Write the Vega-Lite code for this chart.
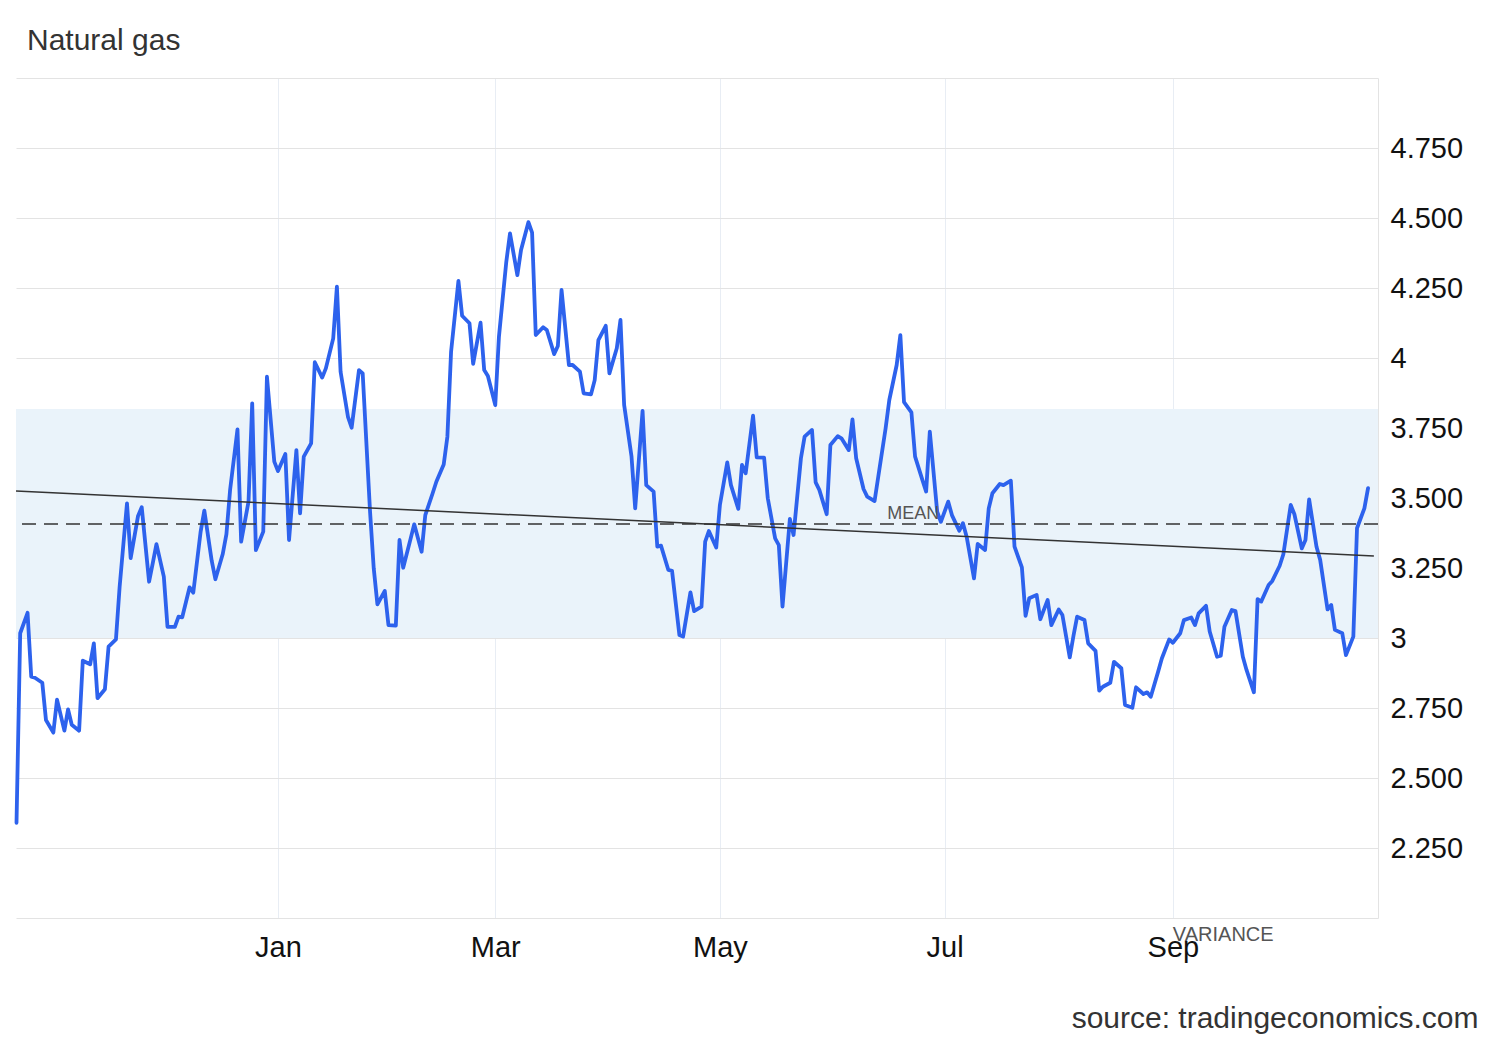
{
  "$schema": "https://vega.github.io/schema/vega-lite/v6.json",
  "width": 1362,
  "height": 840,
  "autosize": "none",
  "padding": {"left": 16, "top": 78, "right": 122, "bottom": 122},
  "background": "white",
  "config": {
    "font": "Liberation Sans",
    "view": {"stroke": null}
  },
  "title": {
    "text": "Natural gas",
    "anchor": "start",
    "dx": 14,
    "offset": 22,
    "fontSize": 30,
    "fontWeight": "normal",
    "color": "#333333",
    "font": "Liberation Sans"
  },
  "layer": [
    {
      "data": {"values": [{"lo": 3.0, "hi": 3.818}]},
      "mark": {"type": "rect", "color": "#eaf3fa"},
      "encoding": {
        "y": {"field": "lo", "type": "quantitative", "title": null, "scale": {"domain": [2, 5], "nice": false, "zero": false}},
        "y2": {"field": "hi"}
      }
    },
    {
      "data": {"values": [
        {"date": "2024-10-22", "v": 2.34},
        {"date": "2024-10-23", "v": 3.017},
        {"date": "2024-10-25", "v": 3.09},
        {"date": "2024-10-26", "v": 2.862},
        {"date": "2024-10-27", "v": 2.858},
        {"date": "2024-10-29", "v": 2.84},
        {"date": "2024-10-30", "v": 2.707},
        {"date": "2024-11-01", "v": 2.662},
        {"date": "2024-11-02", "v": 2.78},
        {"date": "2024-11-04", "v": 2.669},
        {"date": "2024-11-05", "v": 2.745},
        {"date": "2024-11-06", "v": 2.69},
        {"date": "2024-11-08", "v": 2.669},
        {"date": "2024-11-09", "v": 2.919},
        {"date": "2024-11-11", "v": 2.906},
        {"date": "2024-11-12", "v": 2.981},
        {"date": "2024-11-13", "v": 2.785},
        {"date": "2024-11-15", "v": 2.817},
        {"date": "2024-11-16", "v": 2.969},
        {"date": "2024-11-18", "v": 2.995},
        {"date": "2024-11-19", "v": 3.183},
        {"date": "2024-11-21", "v": 3.481},
        {"date": "2024-11-22", "v": 3.285},
        {"date": "2024-11-24", "v": 3.436},
        {"date": "2024-11-25", "v": 3.467},
        {"date": "2024-11-27", "v": 3.201},
        {"date": "2024-11-28", "v": 3.267},
        {"date": "2024-11-29", "v": 3.335},
        {"date": "2024-12-01", "v": 3.219},
        {"date": "2024-12-02", "v": 3.04},
        {"date": "2024-12-04", "v": 3.04},
        {"date": "2024-12-05", "v": 3.076},
        {"date": "2024-12-06", "v": 3.074},
        {"date": "2024-12-08", "v": 3.181},
        {"date": "2024-12-09", "v": 3.162},
        {"date": "2024-12-11", "v": 3.38},
        {"date": "2024-12-12", "v": 3.455},
        {"date": "2024-12-14", "v": 3.276},
        {"date": "2024-12-15", "v": 3.21},
        {"date": "2024-12-17", "v": 3.3},
        {"date": "2024-12-18", "v": 3.371},
        {"date": "2024-12-19", "v": 3.529},
        {"date": "2024-12-21", "v": 3.745},
        {"date": "2024-12-22", "v": 3.344},
        {"date": "2024-12-24", "v": 3.487},
        {"date": "2024-12-25", "v": 3.838},
        {"date": "2024-12-26", "v": 3.314},
        {"date": "2024-12-28", "v": 3.38},
        {"date": "2024-12-29", "v": 3.933},
        {"date": "2024-12-31", "v": 3.63},
        {"date": "2025-01-01", "v": 3.596},
        {"date": "2025-01-03", "v": 3.657},
        {"date": "2025-01-04", "v": 3.35},
        {"date": "2025-01-06", "v": 3.671},
        {"date": "2025-01-07", "v": 3.445},
        {"date": "2025-01-08", "v": 3.648},
        {"date": "2025-01-10", "v": 3.695},
        {"date": "2025-01-11", "v": 3.985},
        {"date": "2025-01-13", "v": 3.93},
        {"date": "2025-01-14", "v": 3.963},
        {"date": "2025-01-16", "v": 4.07},
        {"date": "2025-01-17", "v": 4.255},
        {"date": "2025-01-18", "v": 3.951},
        {"date": "2025-01-20", "v": 3.79},
        {"date": "2025-01-21", "v": 3.751},
        {"date": "2025-01-23", "v": 3.957},
        {"date": "2025-01-24", "v": 3.945},
        {"date": "2025-01-26", "v": 3.451},
        {"date": "2025-01-27", "v": 3.249},
        {"date": "2025-01-28", "v": 3.12},
        {"date": "2025-01-30", "v": 3.168},
        {"date": "2025-01-31", "v": 3.046},
        {"date": "2025-02-02", "v": 3.044},
        {"date": "2025-02-03", "v": 3.35},
        {"date": "2025-02-04", "v": 3.251},
        {"date": "2025-02-06", "v": 3.354},
        {"date": "2025-02-07", "v": 3.406},
        {"date": "2025-02-09", "v": 3.308},
        {"date": "2025-02-10", "v": 3.439},
        {"date": "2025-02-12", "v": 3.517},
        {"date": "2025-02-13", "v": 3.558},
        {"date": "2025-02-15", "v": 3.62},
        {"date": "2025-02-16", "v": 3.719},
        {"date": "2025-02-17", "v": 4.022},
        {"date": "2025-02-19", "v": 4.275},
        {"date": "2025-02-20", "v": 4.151},
        {"date": "2025-02-22", "v": 4.124},
        {"date": "2025-02-23", "v": 3.979},
        {"date": "2025-02-25", "v": 4.126},
        {"date": "2025-02-26", "v": 3.957},
        {"date": "2025-02-27", "v": 3.936},
        {"date": "2025-03-01", "v": 3.832},
        {"date": "2025-03-02", "v": 4.076},
        {"date": "2025-03-04", "v": 4.344},
        {"date": "2025-03-05", "v": 4.445},
        {"date": "2025-03-07", "v": 4.296},
        {"date": "2025-03-08", "v": 4.386},
        {"date": "2025-03-10", "v": 4.485},
        {"date": "2025-03-11", "v": 4.448},
        {"date": "2025-03-12", "v": 4.082},
        {"date": "2025-03-14", "v": 4.11},
        {"date": "2025-03-15", "v": 4.1},
        {"date": "2025-03-17", "v": 4.014},
        {"date": "2025-03-18", "v": 4.043},
        {"date": "2025-03-19", "v": 4.243},
        {"date": "2025-03-21", "v": 3.975},
        {"date": "2025-03-22", "v": 3.975},
        {"date": "2025-03-24", "v": 3.951},
        {"date": "2025-03-25", "v": 3.874},
        {"date": "2025-03-27", "v": 3.87},
        {"date": "2025-03-28", "v": 3.921},
        {"date": "2025-03-29", "v": 4.064},
        {"date": "2025-03-31", "v": 4.115},
        {"date": "2025-04-01", "v": 3.945},
        {"date": "2025-04-03", "v": 4.035},
        {"date": "2025-04-04", "v": 4.136},
        {"date": "2025-04-05", "v": 3.832},
        {"date": "2025-04-07", "v": 3.648},
        {"date": "2025-04-08", "v": 3.463},
        {"date": "2025-04-10", "v": 3.811},
        {"date": "2025-04-11", "v": 3.546},
        {"date": "2025-04-13", "v": 3.523},
        {"date": "2025-04-14", "v": 3.326},
        {"date": "2025-04-15", "v": 3.33},
        {"date": "2025-04-17", "v": 3.243},
        {"date": "2025-04-18", "v": 3.24},
        {"date": "2025-04-20", "v": 3.011},
        {"date": "2025-04-21", "v": 3.005},
        {"date": "2025-04-23", "v": 3.163},
        {"date": "2025-04-24", "v": 3.096},
        {"date": "2025-04-26", "v": 3.112},
        {"date": "2025-04-27", "v": 3.344},
        {"date": "2025-04-28", "v": 3.382},
        {"date": "2025-04-30", "v": 3.323},
        {"date": "2025-05-01", "v": 3.475},
        {"date": "2025-05-03", "v": 3.627},
        {"date": "2025-05-04", "v": 3.546},
        {"date": "2025-05-06", "v": 3.461},
        {"date": "2025-05-07", "v": 3.618},
        {"date": "2025-05-08", "v": 3.588},
        {"date": "2025-05-10", "v": 3.794},
        {"date": "2025-05-11", "v": 3.645},
        {"date": "2025-05-13", "v": 3.644},
        {"date": "2025-05-14", "v": 3.499},
        {"date": "2025-05-16", "v": 3.356},
        {"date": "2025-05-17", "v": 3.332},
        {"date": "2025-05-18", "v": 3.112},
        {"date": "2025-05-20", "v": 3.425},
        {"date": "2025-05-21", "v": 3.368},
        {"date": "2025-05-23", "v": 3.642},
        {"date": "2025-05-24", "v": 3.719},
        {"date": "2025-05-26", "v": 3.743},
        {"date": "2025-05-27", "v": 3.556},
        {"date": "2025-05-28", "v": 3.529},
        {"date": "2025-05-30", "v": 3.442},
        {"date": "2025-05-31", "v": 3.689},
        {"date": "2025-06-02", "v": 3.721},
        {"date": "2025-06-03", "v": 3.713},
        {"date": "2025-06-05", "v": 3.671},
        {"date": "2025-06-06", "v": 3.781},
        {"date": "2025-06-07", "v": 3.642},
        {"date": "2025-06-09", "v": 3.532},
        {"date": "2025-06-10", "v": 3.505},
        {"date": "2025-06-12", "v": 3.489},
        {"date": "2025-06-13", "v": 3.576},
        {"date": "2025-06-15", "v": 3.749},
        {"date": "2025-06-16", "v": 3.85},
        {"date": "2025-06-18", "v": 3.975},
        {"date": "2025-06-19", "v": 4.082},
        {"date": "2025-06-20", "v": 3.842},
        {"date": "2025-06-22", "v": 3.806},
        {"date": "2025-06-23", "v": 3.648},
        {"date": "2025-06-25", "v": 3.564},
        {"date": "2025-06-26", "v": 3.523},
        {"date": "2025-06-27", "v": 3.737},
        {"date": "2025-06-29", "v": 3.451},
        {"date": "2025-06-30", "v": 3.415},
        {"date": "2025-07-02", "v": 3.487},
        {"date": "2025-07-03", "v": 3.439},
        {"date": "2025-07-05", "v": 3.383},
        {"date": "2025-07-06", "v": 3.41},
        {"date": "2025-07-07", "v": 3.362},
        {"date": "2025-07-09", "v": 3.213},
        {"date": "2025-07-10", "v": 3.336},
        {"date": "2025-07-12", "v": 3.314},
        {"date": "2025-07-13", "v": 3.463},
        {"date": "2025-07-14", "v": 3.517},
        {"date": "2025-07-16", "v": 3.55},
        {"date": "2025-07-17", "v": 3.546},
        {"date": "2025-07-19", "v": 3.562},
        {"date": "2025-07-20", "v": 3.326},
        {"date": "2025-07-22", "v": 3.252},
        {"date": "2025-07-23", "v": 3.079},
        {"date": "2025-07-24", "v": 3.142},
        {"date": "2025-07-26", "v": 3.154},
        {"date": "2025-07-27", "v": 3.067},
        {"date": "2025-07-29", "v": 3.136},
        {"date": "2025-07-30", "v": 3.046},
        {"date": "2025-08-01", "v": 3.102},
        {"date": "2025-08-02", "v": 3.082},
        {"date": "2025-08-04", "v": 2.931},
        {"date": "2025-08-05", "v": 3.007},
        {"date": "2025-08-06", "v": 3.076},
        {"date": "2025-08-08", "v": 3.064},
        {"date": "2025-08-09", "v": 2.981},
        {"date": "2025-08-11", "v": 2.954},
        {"date": "2025-08-12", "v": 2.812},
        {"date": "2025-08-13", "v": 2.826},
        {"date": "2025-08-15", "v": 2.84},
        {"date": "2025-08-16", "v": 2.915},
        {"date": "2025-08-18", "v": 2.892},
        {"date": "2025-08-19", "v": 2.761},
        {"date": "2025-08-21", "v": 2.751},
        {"date": "2025-08-22", "v": 2.824},
        {"date": "2025-08-24", "v": 2.8},
        {"date": "2025-08-25", "v": 2.806},
        {"date": "2025-08-26", "v": 2.79},
        {"date": "2025-08-28", "v": 2.88},
        {"date": "2025-08-29", "v": 2.927},
        {"date": "2025-08-31", "v": 2.995},
        {"date": "2025-09-01", "v": 2.983},
        {"date": "2025-09-03", "v": 3.017},
        {"date": "2025-09-04", "v": 3.064},
        {"date": "2025-09-06", "v": 3.073},
        {"date": "2025-09-07", "v": 3.046},
        {"date": "2025-09-08", "v": 3.088},
        {"date": "2025-09-10", "v": 3.115},
        {"date": "2025-09-11", "v": 3.023},
        {"date": "2025-09-13", "v": 2.933},
        {"date": "2025-09-14", "v": 2.937},
        {"date": "2025-09-15", "v": 3.04},
        {"date": "2025-09-17", "v": 3.1},
        {"date": "2025-09-18", "v": 3.096},
        {"date": "2025-09-20", "v": 2.933},
        {"date": "2025-09-21", "v": 2.886},
        {"date": "2025-09-23", "v": 2.806},
        {"date": "2025-09-24", "v": 3.139},
        {"date": "2025-09-25", "v": 3.13},
        {"date": "2025-09-27", "v": 3.189},
        {"date": "2025-09-28", "v": 3.204},
        {"date": "2025-09-30", "v": 3.258},
        {"date": "2025-10-01", "v": 3.299},
        {"date": "2025-10-03", "v": 3.475},
        {"date": "2025-10-04", "v": 3.442},
        {"date": "2025-10-06", "v": 3.32},
        {"date": "2025-10-07", "v": 3.35},
        {"date": "2025-10-08", "v": 3.495},
        {"date": "2025-10-10", "v": 3.326},
        {"date": "2025-10-11", "v": 3.279},
        {"date": "2025-10-13", "v": 3.102},
        {"date": "2025-10-14", "v": 3.118},
        {"date": "2025-10-15", "v": 3.029},
        {"date": "2025-10-17", "v": 3.017},
        {"date": "2025-10-18", "v": 2.939},
        {"date": "2025-10-20", "v": 3.005},
        {"date": "2025-10-21", "v": 3.392},
        {"date": "2025-10-23", "v": 3.463},
        {"date": "2025-10-24", "v": 3.535}
      ]},
      "mark": {"type": "line", "color": "#2d62ed", "strokeWidth": 3.8, "strokeJoin": "round", "strokeCap": "round"},
      "encoding": {
        "x": {
          "field": "date", "type": "temporal",
          "scale": {"type": "utc", "domain": [
            {"year": 2024, "month": 10, "date": 21, "hours": 20, "minutes": 40, "utc": true},
            {"year": 2025, "month": 10, "date": 26, "hours": 16, "minutes": 48, "utc": true}
          ]},
          "title": "source: tradingeconomics.com",
          "axis": {
            "values": [
              {"year": 2025, "month": 1, "date": 1, "utc": true},
              {"year": 2025, "month": 3, "date": 1, "utc": true},
              {"year": 2025, "month": 5, "date": 1, "utc": true},
              {"year": 2025, "month": 7, "date": 1, "utc": true},
              {"year": 2025, "month": 9, "date": 1, "utc": true}
            ],
            "labelExpr": "utcFormat(datum.value, '%b')",
            "domain": false,
            "ticks": false,
            "grid": true,
            "gridColor": "#e8edf4",
            "gridWidth": 1,
            "labelFontSize": 29,
            "labelColor": "#111111",
            "labelPadding": 15,
            "labelFlush": false,
            "labelOverlap": false,
            "titleFontSize": 30,
            "titleFontWeight": "normal",
            "titleColor": "#333333",
            "titleAnchor": "end",
            "titleAlign": "right",
            "titleBaseline": "alphabetic",
            "titleX": 1462,
            "titleY": 109
          }
        },
        "y": {
          "field": "v", "type": "quantitative", "title": null,
          "scale": {"domain": [2, 5], "nice": false, "zero": false},
          "axis": {
            "orient": "right",
            "title": null,
            "values": [2, 2.25, 2.5, 2.75, 3, 3.25, 3.5, 3.75, 4, 4.25, 4.5, 4.75, 5],
            "labelExpr": "(datum.value == 2 || datum.value == 5) ? '' : (datum.value % 1 == 0 ? format(datum.value, 'd') : format(datum.value, '.3f'))",
            "domain": true,
            "domainColor": "#e3e3e3",
            "domainWidth": 1,
            "ticks": false,
            "grid": true,
            "gridColor": "#e3e3e3",
            "gridWidth": 1,
            "labelFontSize": 29,
            "labelColor": "#111111",
            "labelPadding": 12,
            "labelAlign": "left",
            "labelBaseline": "middle"
          }
        }
      }
    },
    {
      "data": {"values": [{"m": 3.407}]},
      "mark": {"type": "rule", "color": "#333333", "strokeWidth": 1.5, "strokeDash": [14, 8]},
      "encoding": {
        "y": {"field": "m", "type": "quantitative", "title": null}
      }
    },
    {
      "data": {"values": [
        {"d": "2024-10-21T20:40:00Z", "t": 3.525},
        {"d": "2025-10-25T14:00:00Z", "t": 3.293}
      ]},
      "mark": {"type": "line", "color": "#333333", "strokeWidth": 1.5},
      "encoding": {
        "x": {"field": "d", "type": "temporal", "title": "source: tradingeconomics.com"},
        "y": {"field": "t", "type": "quantitative", "title": null}
      }
    },
    {
      "data": {"values": [
        {"d": "2025-06-15T10:00:00Z", "y": 3.407, "label": "MEAN"}
      ]},
      "mark": {"type": "text", "align": "left", "baseline": "alphabetic", "dy": -5, "fontSize": 18, "color": "#555555"},
      "encoding": {
        "x": {"field": "d", "type": "temporal", "title": "source: tradingeconomics.com"},
        "y": {"field": "y", "type": "quantitative", "title": null},
        "text": {"field": "label"}
      }
    },
    {
      "data": {"values": [
        {"d": "2025-09-01T00:00:00Z", "y": 1.939, "label": "VARIANCE"}
      ]},
      "mark": {"type": "text", "align": "left", "baseline": "middle", "fontSize": 20, "color": "#555555"},
      "encoding": {
        "x": {"field": "d", "type": "temporal", "title": "source: tradingeconomics.com"},
        "y": {"field": "y", "type": "quantitative", "title": null},
        "text": {"field": "label"}
      }
    }
  ]
}
